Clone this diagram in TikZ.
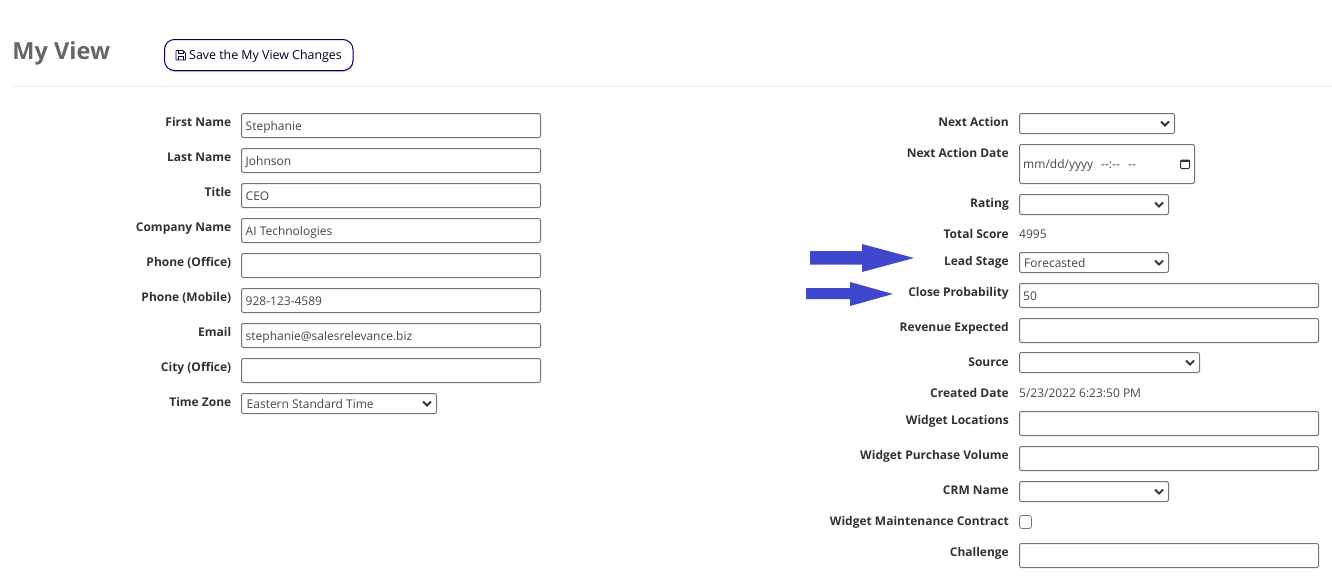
\documentclass[tikz,border=0pt]{standalone}
\usepackage{fontspec}
\setmainfont{Open Sans}
\definecolor{lab}{HTML}{2F3337}
\definecolor{val}{HTML}{42474D}
\definecolor{brd}{HTML}{767676}
\definecolor{arr}{HTML}{3F48CC}
\definecolor{navy}{HTML}{000066}
\tikzset{
  x=1pt,y=-1pt,
  fieldlabel/.style={anchor=base east,inner sep=0,font=\fontsize{12}{14}\selectfont\bfseries,text=lab},
  fieldvalue/.style={anchor=base west,inner sep=0,font=\fontsize{12}{14}\selectfont,text=val},
  fieldbox/.style={draw=brd,line width=1pt,rounded corners=2pt,fill=white},
  chev/.style={draw=black!80,line width=1.8pt},
  blockarrow/.style={fill=arr,draw=none}
}
\newcommand{\flabel}[4]{\node[fieldlabel] (#1) at (#2,#3) {#4};}
\newcommand{\fieldrect}[4]{\draw[fieldbox] (#1,#2) rectangle (#3,#4);}
\newcommand{\selectmark}[2]{\draw[chev] (#1-4,#2-2) -- (#1,#2+2) -- (#1+4,#2-2);}
\begin{document}
\begin{tikzpicture}
\useasboundingbox (0,0) rectangle (1332,581);
\fill[white] (0,0) rectangle (1332,581);
% header
\node[anchor=base west,inner sep=0,font=\fontsize{23.5}{28}\selectfont\bfseries,text=black!60] (title) at (12.3,59) {My View};
\draw[black!18,line width=1.2pt,rounded corners=10pt] (165,41) rectangle (353,71.5);
\draw[draw=navy,line width=1pt,rounded corners=10pt,fill=white] (164.5,39.5) rectangle (353,70.5);
\node[anchor=base west,inner sep=0,font=\fontsize{12.4}{14}\selectfont,text=black!90!blue] (save) at (189,59) {Save the My View Changes};
% save icon
\draw[navy!60!black,line width=.8pt,rounded corners=.6pt] (176,50.5) -- (183,50.5) -- (185.5,53) -- (185.5,60) -- (176,60) -- cycle;
\draw[navy!60!black,line width=.7pt] (178,50.5) -- (178,53.5) -- (183,53.5) -- (183,50.5) (178,60) -- (178,56.5) -- (183.5,56.5) -- (183.5,60);
\draw[black!7,line width=1pt] (12,86.5) -- (1332,86.5);
% left column
\flabel{l1}{231.5}{126}{First Name}
\flabel{l2}{231.5}{161}{Last Name}
\flabel{l3}{231.5}{196}{Title}
\flabel{l4}{231.5}{231}{Company Name}
\flabel{l5}{231.5}{266}{Phone (Office)}
\flabel{l6}{231.5}{301}{Phone (Mobile)}
\flabel{l7}{231.5}{336}{Email}
\flabel{l8}{231.5}{371}{City (Office)}
\flabel{l9}{231.5}{406}{Time Zone}
\fieldrect{241.5}{113.5}{540.5}{137.5}
\fieldrect{241.5}{148.5}{540.5}{172.5}
\fieldrect{241.5}{183.5}{540.5}{207.5}
\fieldrect{241.5}{218.5}{540.5}{242.5}
\fieldrect{241.5}{253.5}{540.5}{277.5}
\fieldrect{241.5}{288.5}{540.5}{312.5}
\fieldrect{241.5}{323.5}{540.5}{347.5}
\fieldrect{241.5}{358.5}{540.5}{382.5}
\fieldrect{241.5}{393.5}{436.5}{413.5}
\selectmark{427}{403.5}
\node[fieldvalue] (v1) at (245.5,130) {Stephanie};
\node[fieldvalue] (v2) at (245.5,165) {Johnson};
\node[fieldvalue] (v3) at (245.5,200) {CEO};
\node[fieldvalue] (v4) at (245.5,235) {AI Technologies};
\node[fieldvalue] (v6) at (245.5,305) {928-123-4589};
\node[fieldvalue] (v7) at (245.5,340) {stephanie@salesrelevance.biz};
\node[fieldvalue] (v9) at (246.5,408) {Eastern Standard Time};
% right column
\flabel{r1}{1009}{126}{Next Action}
\flabel{r2}{1009}{157}{Next Action Date}
\flabel{r3}{1009}{207}{Rating}
\flabel{r4}{1009}{238}{Total Score}
\flabel{r5}{1009}{265}{Lead Stage}
\flabel{r6}{1009}{296}{Close Probability}
\flabel{r7}{1009}{331}{Revenue Expected}
\flabel{r8}{1009}{366}{Source}
\flabel{r9}{1009}{397}{Created Date}
\flabel{r10}{1009}{424}{Widget Locations}
\flabel{r11}{1009}{459}{Widget Purchase Volume}
\flabel{r12}{1009}{494}{CRM Name}
\flabel{r13}{1009}{525}{Widget Maintenance Contract}
\flabel{r14}{1009}{556}{Challenge}
\fieldrect{1019.5}{113.5}{1174.5}{133.5}
\selectmark{1165}{123.5}
\fieldrect{1019.5}{144.5}{1194.5}{183.5}
\fieldrect{1019.5}{194.5}{1168.5}{214.5}
\selectmark{1159}{204.5}
\fieldrect{1019.5}{252.5}{1168.5}{272.5}
\selectmark{1159}{262.5}
\fieldrect{1019.5}{283.5}{1318.5}{307.5}
\fieldrect{1019.5}{318.5}{1318.5}{342.5}
\fieldrect{1019.5}{352.5}{1199.5}{372.5}
\selectmark{1190}{362.5}
\fieldrect{1019.5}{411.5}{1318.5}{435.5}
\fieldrect{1019.5}{446.5}{1318.5}{470.5}
\fieldrect{1019.5}{481.5}{1168.5}{501.5}
\selectmark{1159}{491.5}
\draw[fieldbox,line width=.8pt,rounded corners=2.5pt] (1019.5,515.5) rectangle (1031.5,528.5);
\fieldrect{1019.5}{543.5}{1318.5}{567.5}
\node[fieldvalue] (w2) at (1023,168) {mm/dd/yyyy};
\node[fieldvalue] (w2b) at (1101,168) {{-}{-}:{-}{-}};
\node[fieldvalue] (w2c) at (1128,168) {{-}{-}};
% calendar icon
\draw[lab,line width=1pt,rounded corners=1pt] (1180.5,160) rectangle (1189.5,168.5);
\fill[lab] (1180.5,159.5) rectangle (1189.5,162);
\node[fieldvalue] (w4) at (1019,238) {4995};
\node[fieldvalue] (w5) at (1024,267) {Forecasted};
\node[fieldvalue] (w6) at (1023,300) {50};
\node[fieldvalue] (w9) at (1019,397) {5/23/2022 6:23:50 PM};
% arrows
\fill[blockarrow] (810,251) -- (862,251) -- (862,244) -- (914,258) -- (862,272) -- (862,264.5) -- (810,264.5) -- cycle;
\fill[blockarrow] (806,288) -- (850,288) -- (850,282) -- (893,294) -- (850,306) -- (850,299) -- (806,299) -- cycle;
\end{tikzpicture}
\end{document}
